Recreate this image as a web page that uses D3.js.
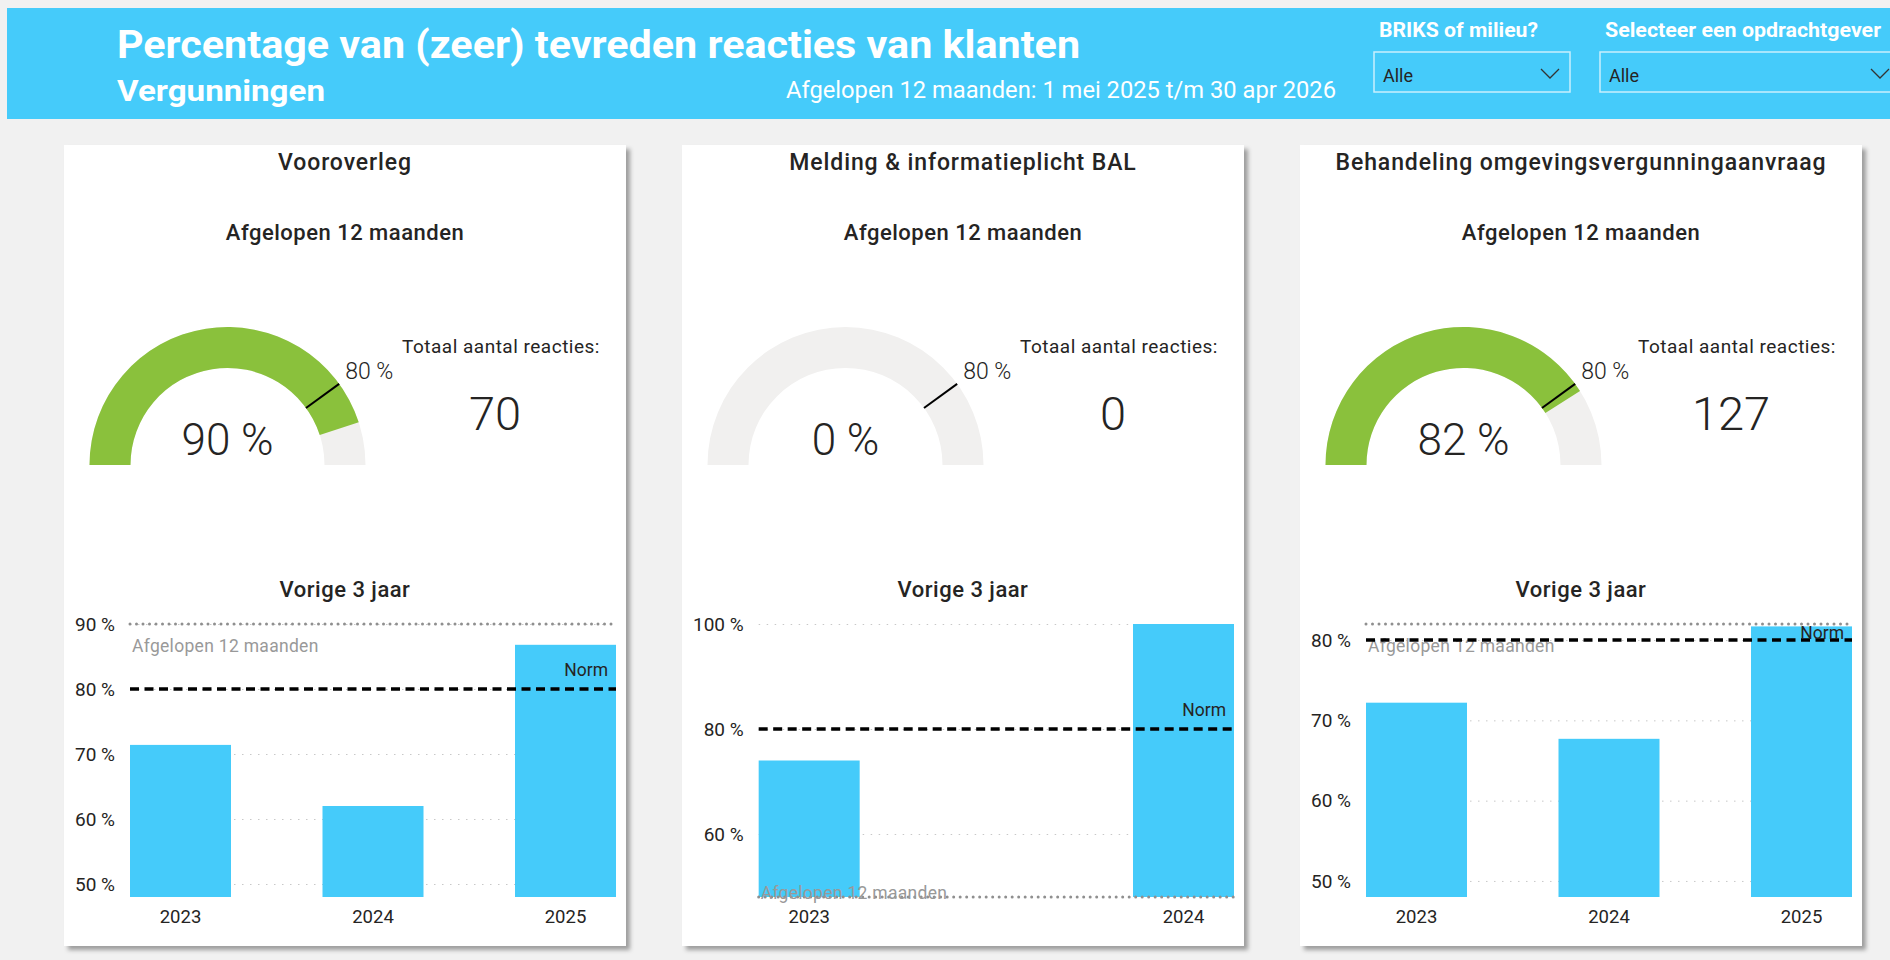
<!DOCTYPE html>
<html>
<head>
<meta charset="utf-8">
<script src="https://cdn.jsdelivr.net/npm/d3@7"></script>
<style>
  body { margin: 0; background: #f1f1f1; }
  svg { display: block; }
  text { font-family: Roboto, "Noto Sans", sans-serif; }
</style>
</head>
<body>
<svg width="1890" height="960"></svg>
<script>
// report text
const pageTitle = "Percentage van (zeer) tevreden reacties van klanten";
const pageSubtitle = "Vergunningen";
const periodText = "Afgelopen 12 maanden: 1 mei 2025 t/m 30 apr 2026";
const filterLabels = ["BRIKS of milieu?", "Selecteer een opdrachtgever"];
const filterValues = ["Alle", "Alle"];

// one entry per card
const cardTitles = ["Vooroverleg", "Melding & informatieplicht BAL", "Behandeling omgevingsvergunningaanvraag"];
const last12Pct = [90, 0, 82];
const totalReactions = [70, 0, 127];
const normPct = 80;

// previous years, per card
const yearLabels = [["2023", "2024", "2025"], ["2023", "2024"], ["2023", "2024", "2025"]];
const yearPct = [[71.4, 62, 86.8], [74, 100], [72.2, 67.7, 81.7]];
const yTicks = [[50, 60, 70, 80, 90], [60, 80, 100], [50, 60, 70, 80]];

const svg = d3.select("svg");
const blue = "#45CBFA", green = "#8AC13C", track = "#F1F0EF", ink = "#252423";
const headFont = "Lato, 'Open Sans', sans-serif";

const defs = svg.append("defs");
defs.append("filter").attr("id", "shadow")
  .attr("x", "-5%").attr("y", "-5%").attr("width", "115%").attr("height", "115%")
  .append("feDropShadow")
    .attr("dx", 4).attr("dy", 4).attr("stdDeviation", 2)
    .attr("flood-color", "#000").attr("flood-opacity", 0.35);

svg.append("rect").attr("width", 1890).attr("height", 960).attr("fill", "#f1f1f1");

// header band
const head = svg.append("g");
head.append("rect").attr("x", 7).attr("y", 8).attr("width", 1883).attr("height", 111).attr("fill", blue);

head.append("text").attr("x", 117).attr("y", 58)
  .attr("font-family", headFont).attr("font-weight", 700)
  .attr("font-size", 39).attr("textLength", 963).attr("lengthAdjust", "spacingAndGlyphs")
  .attr("fill", "#fff").text(pageTitle);
head.append("text").attr("x", 117).attr("y", 101)
  .attr("font-family", headFont).attr("font-weight", 700)
  .attr("font-size", 29).attr("textLength", 208).attr("lengthAdjust", "spacingAndGlyphs")
  .attr("fill", "#fff").text(pageSubtitle);
head.append("text").attr("x", 786).attr("y", 98)
  .attr("font-family", headFont)
  .attr("font-size", 23.5).attr("textLength", 550).attr("lengthAdjust", "spacingAndGlyphs")
  .attr("fill", "#fff").text(periodText);

const slicerX = [1374, 1600], slicerW = [196, 300], slicerLabW = [159, 276];
filterLabels.forEach((lab, i) => {
  const x = slicerX[i];
  head.append("text").attr("x", x + 5).attr("y", 37)
    .attr("font-weight", 700).attr("font-size", 20)
    .attr("textLength", slicerLabW[i]).attr("lengthAdjust", "spacingAndGlyphs")
    .attr("fill", "#fff").text(lab);
  head.append("rect").attr("x", x).attr("y", 52).attr("width", slicerW[i]).attr("height", 40)
    .attr("fill", "none").attr("stroke", "#c9effd").attr("stroke-width", 1.5);
  head.append("text").attr("x", x + 9).attr("y", 82)
    .attr("font-size", 18).attr("fill", ink).text(filterValues[i]);
  const cx = x + slicerW[i] - 20;
  head.append("path")
    .attr("d", d3.line()([[cx - 9, 69], [cx, 78], [cx + 9, 69]]))
    .attr("fill", "none").attr("stroke", "#333").attr("stroke-width", 1.3);
});

// cards
const cardY = 145, cardW = 562, cardH = 801;
const cardX = i => 64 + i * 618;

cardTitles.forEach((title, i) => {
  const g = svg.append("g").attr("transform", `translate(${cardX(i)},0)`);

  g.append("rect").attr("x", 0).attr("y", cardY).attr("width", cardW).attr("height", cardH)
    .attr("fill", "#fff").attr("filter", "url(#shadow)");

  g.append("text").attr("x", 281).attr("y", 170).attr("text-anchor", "middle")
    .attr("font-size", 23).attr("font-weight", 500).attr("letter-spacing", 0.9)
    .attr("fill", ink).text(title);
  g.append("text").attr("x", 281).attr("y", 240).attr("text-anchor", "middle")
    .attr("font-size", 22).attr("font-weight", 500).attr("letter-spacing", 0.5)
    .attr("fill", ink).text("Afgelopen 12 maanden");

  // gauge
  const cx = 163.5, cy = 465, R = 138, r = 97;
  const ang = d3.scaleLinear().domain([0, 100]).range([-Math.PI / 2, Math.PI / 2]);
  const arc = d3.arc().innerRadius(r).outerRadius(R);
  const gauge = g.append("g").attr("transform", `translate(${cx},${cy})`);
  gauge.append("path").attr("d", arc({ startAngle: ang(0), endAngle: ang(100) })).attr("fill", track);
  if (last12Pct[i] > 0) {
    gauge.append("path").attr("d", arc({ startAngle: ang(0), endAngle: ang(last12Pct[i]) })).attr("fill", green);
  }
  const a = ang(normPct);
  const pt = rad => [rad * Math.sin(a), -rad * Math.cos(a)];
  gauge.append("line")
    .attr("x1", pt(r)[0]).attr("y1", pt(r)[1]).attr("x2", pt(R)[0]).attr("y2", pt(R)[1])
    .attr("stroke", "#000").attr("stroke-width", 2);
  gauge.append("text").attr("x", pt(R)[0] + 6).attr("y", pt(R)[1] - 5)
    .attr("font-size", 23).attr("font-weight", 300).attr("fill", ink).text(`${normPct} %`);
  gauge.append("text").attr("x", 0).attr("y", -10).attr("text-anchor", "middle")
    .attr("font-size", 44).attr("font-weight", 300).attr("fill", ink).text(`${last12Pct[i]} %`);

  g.append("text").attr("x", 338).attr("y", 353)
    .attr("font-size", 19).attr("letter-spacing", 0.5).attr("fill", ink).text("Totaal aantal reacties:");
  g.append("text").attr("x", 431).attr("y", 430).attr("text-anchor", "middle")
    .attr("font-size", 47).attr("font-weight", 300).attr("fill", ink).text(totalReactions[i]);

  // previous years chart
  g.append("text").attr("x", 281).attr("y", 597).attr("text-anchor", "middle")
    .attr("font-size", 22).attr("font-weight", 500).attr("letter-spacing", 0.5)
    .attr("fill", ink).text("Vorige 3 jaar");

  const values = yearPct[i];
  const yBottom = 897, yTop = 624;
  const y = d3.scaleLinear()
    .domain([48, d3.max([...values, last12Pct[i], normPct])])
    .range([yBottom, yTop]).clamp(true);

  // measure widest tick label to place the plot
  const probe = g.append("g").attr("font-size", 19);
  const labW = d3.max(yTicks[i], t => probe.append("text").text(`${t} %`).node().getComputedTextLength());
  probe.remove();
  const plotLeft = 11 + labW + 15, plotRight = 552;

  const barW = 101, n = values.length;
  const pad = (plotRight - plotLeft - n * barW) / (plotRight - plotLeft - barW);
  const x = d3.scaleBand().domain(yearLabels[i]).range([plotLeft, plotRight])
    .paddingInner(n > 1 ? pad : 0).paddingOuter(0);

  const grid = g.append("g").attr("transform", `translate(${plotLeft},0)`)
    .call(d3.axisLeft(y).tickValues(yTicks[i]).tickSize(-(plotRight - plotLeft)).tickFormat(""));
  grid.select(".domain").remove();
  grid.selectAll("line").attr("stroke", "#c8c8c8").attr("stroke-dasharray", "1.5,6.5");

  const yAxis = g.append("g").attr("transform", `translate(${plotLeft - 15},0)`)
    .call(d3.axisLeft(y).tickValues(yTicks[i]).tickSize(0).tickPadding(0).tickFormat(d => `${d} %`));
  yAxis.select(".domain").remove();
  yAxis.selectAll("text").attr("font-size", 19).attr("fill", ink)
    .attr("font-family", "Roboto, 'Noto Sans', sans-serif");

  g.append("g").selectAll("rect").data(values).join("rect")
    .attr("x", (d, j) => x(yearLabels[i][j]))
    .attr("y", d => y(d))
    .attr("width", x.bandwidth())
    .attr("height", d => yBottom - y(d))
    .attr("fill", blue);

  const xAxis = g.append("g").attr("transform", `translate(0,${yBottom})`)
    .call(d3.axisBottom(x).tickSize(0));
  xAxis.select(".domain").remove();
  xAxis.selectAll("text").attr("y", 26).attr("dy", null).attr("font-size", 18.5).attr("fill", ink)
    .attr("font-family", "Roboto, 'Noto Sans', sans-serif");

  // reference lines
  const yNorm = y(normPct), yLast = y(last12Pct[i]);
  g.append("line").attr("x1", plotLeft).attr("x2", plotRight).attr("y1", yLast).attr("y2", yLast)
    .attr("stroke", "#8f8f8f").attr("stroke-width", 3).attr("stroke-linecap", "round")
    .attr("stroke-dasharray", "0,6.5");
  g.append("text").attr("x", plotLeft + 2).attr("y", Math.min(yLast + 28, yBottom + 2))
    .attr("font-size", 17.5).attr("letter-spacing", 0.3).attr("fill", "#999").text("Afgelopen 12 maanden");

  g.append("line").attr("x1", plotLeft).attr("x2", plotRight).attr("y1", yNorm).attr("y2", yNorm)
    .attr("stroke", "#000").attr("stroke-width", 3.5).attr("stroke-dasharray", "9,5.5");
  g.append("text").attr("x", plotRight - 8).attr("y", Math.max(yNorm - 13, yTop + 15))
    .attr("text-anchor", "end").attr("font-size", 17.5).attr("fill", ink).text("Norm");
});
</script>
</body>
</html>
